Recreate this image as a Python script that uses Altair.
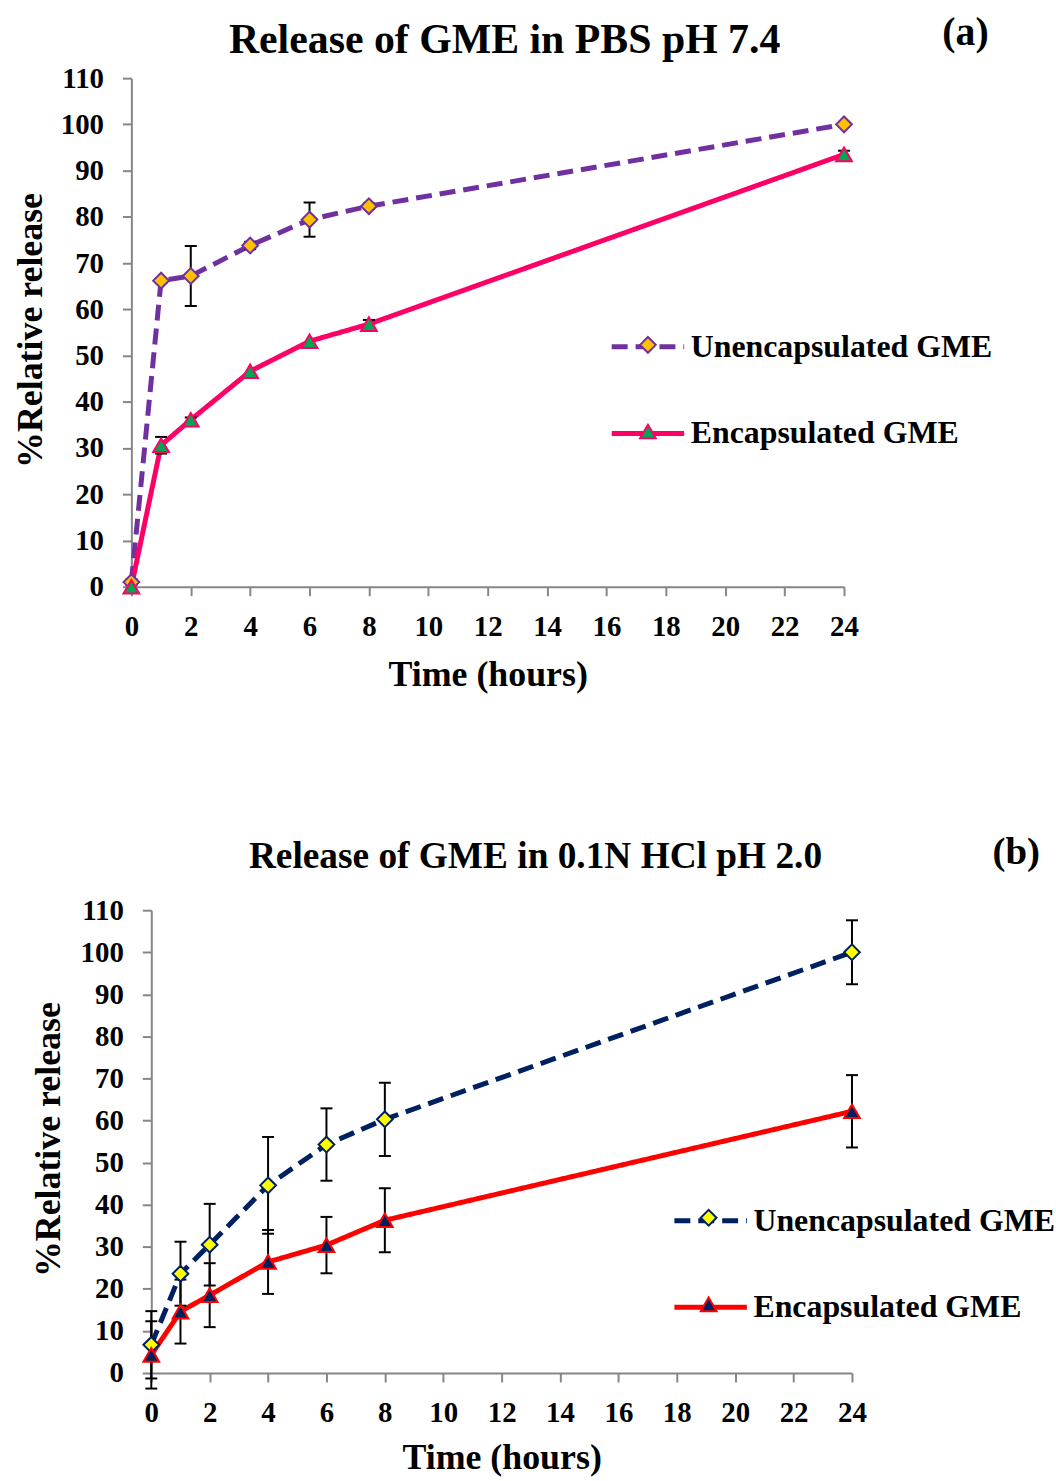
import altair as alt
import pandas as pd

FONT = "Liberation Serif"

hours = [0, 1, 2, 4, 6, 8, 24]
series_names = ["Unencapsulated GME", "Encapsulated GME"]
x_ticks = list(range(0, 25, 2))
y_ticks = list(range(0, 111, 10))

# (a) Release of GME in PBS pH 7.4
a_unenc = [1.0, 66.2, 67.2, 73.8, 79.4, 82.3, 100.0]
a_unenc_err = [0.6, 0.5, 6.5, 0.8, 3.7, 0.6, 0.5]
a_enc = [0.0, 30.6, 36.1, 46.6, 53.1, 56.8, 93.5]
a_enc_err = [0.0, 1.8, 0.5, 0.0, 0.0, 0.9, 0.8]

# (b) Release of GME in 0.1N HCl pH 2.0
b_unenc = [6.7, 23.6, 30.5, 44.6, 54.3, 60.3, 100.0]
b_unenc_err = [8.0, 7.6, 9.7, 11.5, 8.6, 8.7, 7.6]
b_enc = [4.3, 14.6, 18.5, 26.4, 30.4, 36.3, 62.2]
b_enc_err = [8.0, 7.6, 7.6, 7.6, 6.7, 7.6, 8.6]


def make_df(unenc, unenc_err, enc, enc_err):
    rows = []
    for name, vals, errs in [(series_names[0], unenc, unenc_err),
                             (series_names[1], enc, enc_err)]:
        for h, v, e in zip(hours, vals, errs):
            rows.append({"hours": h, "release": v, "err": e, "series": name,
                         "lo": v - e, "hi": v + e})
    return pd.DataFrame(rows)


def panel(df, title, tag, line_colors, marker_fills, marker_strokes,
          inset, plot_w, height, title_pos, title_size, tag_pos, tag_size,
          ytitle_pos, xtitle_y, leg1_pos, leg2_pos):
    # inset: left margin inside the view before the axis (shifts the panel right)
    width = inset + plot_w
    base = alt.Chart(df)
    x_axis = alt.Axis(values=x_ticks, title="Time (hours)", titleX=inset + plot_w / 2,
                      titleY=xtitle_y, titleBaseline="middle", titleAlign="center",
                      labelFlush=False, labelPadding=17)
    y_axis = alt.Axis(values=y_ticks, title="%Relative release", titleX=ytitle_pos[0],
                      titleY=ytitle_pos[1], titleAngle=270, titleBaseline="middle",
                      titleAlign="center", labelFlush=False, labelPadding=19,
                      offset=-inset)
    xs = alt.Scale(domain=[0, 24], nice=False, range=[inset, width])
    ys = alt.Scale(domain=[0, 110], nice=False)
    X = alt.X("hours:Q", scale=xs, axis=x_axis)

    leg1 = alt.Legend(orient="none", legendX=inset + leg1_pos[0], legendY=leg1_pos[1],
                      title=None, symbolType="stroke", symbolSize=5300,
                      symbolStrokeWidth=5, labelFont=FONT, labelFontSize=32,
                      labelFontWeight="bold", labelColor="black", labelOffset=4,
                      labelLimit=500, rowPadding=32, padding=0)
    leg2 = alt.Legend(orient="none", legendX=inset + leg2_pos[0], legendY=leg2_pos[1],
                      title=None, symbolSize=250, symbolStrokeWidth=2,
                      labelExpr="''", rowPadding=64, padding=0)

    lines = base.mark_line(strokeWidth=5, strokeCap="butt").encode(
        x=X,
        y=alt.Y("release:Q", scale=ys, axis=y_axis),
        color=alt.Color("series:N", scale=alt.Scale(domain=series_names, range=line_colors),
                        legend=leg1),
        strokeDash=alt.StrokeDash("series:N",
                                  scale=alt.Scale(domain=series_names,
                                                  range=[[16, 8], [1, 0]]),
                                  legend=leg1),
    )
    eb = base.transform_filter("datum.err > 0")
    rules = eb.mark_rule(color="black", strokeWidth=2).encode(
        x=X, y=alt.Y("lo:Q", scale=ys, axis=y_axis), y2="hi:Q")
    caps_lo = eb.mark_tick(color="black", orient="horizontal", size=12, thickness=2,
                           opacity=1).encode(x=X, y=alt.Y("lo:Q", scale=ys, axis=y_axis))
    caps_hi = eb.mark_tick(color="black", orient="horizontal", size=12, thickness=2,
                           opacity=1).encode(x=X, y=alt.Y("hi:Q", scale=ys, axis=y_axis))
    points = base.mark_point(filled=True, size=250, strokeWidth=2, opacity=1).encode(
        x=X,
        y=alt.Y("release:Q", scale=ys, axis=y_axis),
        shape=alt.Shape("series:N", sort="descending",
                        scale=alt.Scale(range=["diamond", "triangle-up"]), legend=leg2),
        fill=alt.Fill("series:N", sort="descending",
                      scale=alt.Scale(range=marker_fills), legend=leg2),
        stroke=alt.Stroke("series:N", sort="descending",
                          scale=alt.Scale(range=marker_strokes), legend=leg2),
    )
    tdf = pd.DataFrame({"title": [title], "tag": [tag]})
    title_text = alt.Chart(tdf).mark_text(
        font=FONT, fontSize=title_size, fontWeight="bold", color="black",
        align="center", baseline="middle").encode(
        text="title:N", x=alt.value(inset + title_pos[0]), y=alt.value(title_pos[1]))
    tag_text = alt.Chart(tdf).mark_text(
        font=FONT, fontSize=tag_size, fontWeight="bold", color="black",
        align="center", baseline="middle").encode(
        text="tag:N", x=alt.value(inset + tag_pos[0]), y=alt.value(tag_pos[1]))

    return alt.layer(lines, rules, caps_lo, caps_hi, points, title_text, tag_text).properties(
        width=width, height=height)


df_a = make_df(a_unenc, a_unenc_err, a_enc, a_enc_err)
df_b = make_df(b_unenc, b_unenc_err, b_enc, b_enc_err)

pa = panel(df_a, "Release of GME in PBS pH 7.4", "(a)",
           ["#7030A0", "#FF0066"], ["#FFC000", "#00A651"], ["#7030A0", "#FF0066"],
           0, 716, 511, (375, -38), 42, (838, -45), 40,
           (-101.7, 253), 88, (480, 231), (510, 259))

pb = panel(df_b, "Release of GME in 0.1N HCl pH 2.0", "(b)",
           ["#002060", "#FF0000"], ["#FFFF00", "#002060"], ["#002060", "#FF0000"],
           20, 704, 465, (386, -53), 37.5, (869, -58), 39,
           (-103.7, 230), 85, (523, 273), (551, 300))

chart = alt.concat(pa, pb, columns=1, spacing=142).resolve_scale(
    color="independent", strokeDash="independent", shape="independent",
    fill="independent", stroke="independent", x="independent", y="independent"
).resolve_legend(
    color="independent", strokeDash="independent", shape="independent",
    fill="independent", stroke="independent"
).configure_axis(
    domainColor="#868686", domainWidth=2, tickColor="#868686", tickWidth=2, tickSize=9,
    labelFont=FONT, labelFontSize=29, labelFontWeight="bold", labelColor="black",
    titleFont=FONT, titleFontSize=36, titleFontWeight="bold",
    titleColor="black", grid=False
).configure_view(stroke=None).properties(
    padding={"left": 12, "top": 10, "right": 0, "bottom": 0}, background="white"
)

chart.save("out.html", embed_options={"renderer": "svg", "actions": False})
